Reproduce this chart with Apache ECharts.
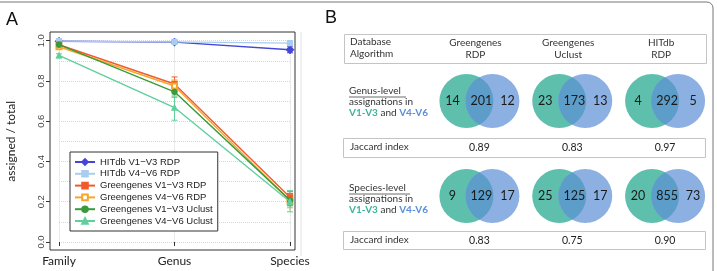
<!DOCTYPE html>
<html>
<head>
<meta charset="utf-8">
<script src="https://cdn.jsdelivr.net/npm/echarts@6/dist/echarts.min.js"></script>
<style>
html, body { margin: 0; padding: 0; background: #fff; }
#main { width: 717px; height: 271px; }
</style>
</head>
<body>
<div id="main"></div>
<script>
// ---- panel A data ----
var levels = ['Family', 'Genus', 'Species']
var yTicks = [0, 0.2, 0.4, 0.6, 0.8, 1.0]
var seriesNames = [
  'HITdb V1−V3 RDP',
  'HITdb V4−V6 RDP',
  'Greengenes V1−V3 RDP',
  'Greengenes V4−V6 RDP',
  'Greengenes V1−V3 Uclust',
  'Greengenes V4−V6 Uclust'
]
var hitdbV13Rdp = [0.997, 0.993, 0.955]
var hitdbV46Rdp = [0.998, 0.994, 0.988]
var ggV13Rdp = [0.980, 0.785, 0.222]
var ggV46Rdp = [0.970, 0.775, 0.205]
var ggV13Uclust = [0.980, 0.746, 0.208]
var ggV46Uclust = [0.927, 0.668, 0.200]
// error bar bounds
var hitdbV13Lo = [0.994, 0.989, 0.940]
var hitdbV13Hi = [0.999, 0.997, 0.970]
var hitdbV46Lo = [0.996, 0.990, 0.983]
var hitdbV46Hi = [1.000, 0.997, 0.993]
var ggV13RdpLo = [0.975, 0.750, 0.190]
var ggV13RdpHi = [0.985, 0.820, 0.250]
var ggV46RdpLo = [0.960, 0.745, 0.170]
var ggV46RdpHi = [0.980, 0.805, 0.240]
var ggV13UclustLo = [0.970, 0.720, 0.180]
var ggV13UclustHi = [0.990, 0.770, 0.240]
var ggV46UclustLo = [0.915, 0.605, 0.150]
var ggV46UclustHi = [0.935, 0.730, 0.255]

// ---- panel B data ----
var colDatabase = ['Greengenes', 'Greengenes', 'HITdb']
var colAlgorithm = ['RDP', 'Uclust', 'RDP']
var genusVenn = [[14, 201, 12], [23, 173, 13], [4, 292, 5]]
var speciesVenn = [[9, 129, 17], [25, 125, 17], [20, 855, 73]]
var jaccardGenus = ['0.89', '0.83', '0.97']
var jaccardSpecies = ['0.83', '0.75', '0.90']

var colors = ['#4545d8', '#a9cdef', '#f15b2c', '#f6a62b', '#3b9a3b', '#60cf9c']
var symbols = ['diamond', 'rect', 'rect', 'emptyRect', 'circle', 'triangle']
var values = [hitdbV13Rdp, hitdbV46Rdp, ggV13Rdp, ggV46Rdp, ggV13Uclust, ggV46Uclust]
var lows = [hitdbV13Lo, hitdbV46Lo, ggV13RdpLo, ggV46RdpLo, ggV13UclustLo, ggV46UclustLo]
var highs = [hitdbV13Hi, hitdbV46Hi, ggV13RdpHi, ggV46RdpHi, ggV13UclustHi, ggV46UclustHi]

var fontA = 'Liberation Sans, Arial, sans-serif'
var fontB = 'Lato, Open Sans, sans-serif'

var myChart = echarts.init(document.getElementById('main'))

var series = []
seriesNames.forEach(function (name, i) {
  series.push({
    name: name,
    type: 'line',
    xAxisIndex: 0,
    yAxisIndex: 0,
    data: values[i],
    symbol: symbols[i],
    symbolSize: i === 0 ? 7 : 5,
    showSymbol: true,
    lineStyle: { width: 1.4, color: colors[i] },
    itemStyle: { color: colors[i], borderColor: colors[i], borderWidth: 1.3 },
    z: 3 + i
  })
})

// error bars
var errData = []
lows.forEach(function (lo, s) {
  lo.forEach(function (v, k) {
    errData.push([k, v, highs[s][k], s])
  })
})
series.push({
  type: 'custom',
  xAxisIndex: 0,
  yAxisIndex: 0,
  data: errData,
  z: 2,
  renderItem: function (params, api) {
    var p1 = api.coord([api.value(0), api.value(1)])
    var p2 = api.coord([api.value(0), api.value(2)])
    var c = colors[api.value(3)]
    var w = 3
    var st = { stroke: c, lineWidth: 1 }
    return {
      type: 'group',
      children: [
        { type: 'line', shape: { x1: p1[0], y1: p1[1], x2: p2[0], y2: p2[1] }, style: st },
        { type: 'line', shape: { x1: p1[0] - w, y1: p1[1], x2: p1[0] + w, y2: p1[1] }, style: st },
        { type: 'line', shape: { x1: p2[0] - w, y1: p2[1], x2: p2[0] + w, y2: p2[1] }, style: st }
      ]
    }
  }
})

// venn diagrams
var vennData = []
genusVenn.forEach(function (v, c) { vennData.push([c, 0, v[0], v[1], v[2]]) })
speciesVenn.forEach(function (v, c) { vennData.push([c, 1, v[0], v[1], v[2]]) })
series.push({
  type: 'custom',
  xAxisIndex: 2,
  yAxisIndex: 3,
  data: vennData,
  renderItem: function (params, api) {
    var p = api.coord([api.value(0), api.value(1)])
    var r = 27
    var d = 13
    var h = Math.sqrt(r * r - d * d)
    var lens = 'M' + p[0] + ',' + (p[1] - h) +
      ' A' + r + ',' + r + ' 0 0 1 ' + p[0] + ',' + (p[1] + h) +
      ' A' + r + ',' + r + ' 0 0 1 ' + p[0] + ',' + (p[1] - h) + ' Z'
    var tf = { fill: '#1a1a1a', font: '12.5px ' + fontB, align: 'center', verticalAlign: 'middle' }
    return {
      type: 'group',
      children: [
        { type: 'circle', shape: { cx: p[0] - d, cy: p[1], r: r }, style: { fill: '#5ebfad' } },
        { type: 'circle', shape: { cx: p[0] + d, cy: p[1], r: r }, style: { fill: '#8db0e2' } },
        { type: 'path', shape: { pathData: lens }, style: { fill: '#5c9dc9' } },
        { type: 'text', style: Object.assign({ text: String(api.value(2)), x: p[0] - 27, y: p[1] }, tf) },
        { type: 'text', style: Object.assign({ text: String(api.value(3)), x: p[0] + 2, y: p[1] }, tf) },
        { type: 'text', style: Object.assign({ text: String(api.value(4)), x: p[0] + 28, y: p[1] }, tf) }
      ]
    }
  }
})

// jaccard values and column headers
var jacData = []
jaccardGenus.forEach(function (v, c) { jacData.push([c, 0.49, c, 0]) })
jaccardSpecies.forEach(function (v, c) { jacData.push([c, 1.465, c, 1]) })
series.push({
  type: 'custom',
  xAxisIndex: 2,
  yAxisIndex: 3,
  data: jacData,
  renderItem: function (params, api) {
    var p = api.coord([api.value(0), api.value(1)])
    var arr = api.value(3) === 0 ? jaccardGenus : jaccardSpecies
    return {
      type: 'text',
      style: { text: arr[api.value(2)], x: p[0], y: p[1], fill: '#222', font: '10.5px ' + fontB, align: 'center', verticalAlign: 'middle' }
    }
  }
})
var headData = colDatabase.map(function (d, c) { return [c, -0.61, c] })
series.push({
  type: 'custom',
  xAxisIndex: 2,
  yAxisIndex: 3,
  data: headData,
  renderItem: function (params, api) {
    var p = api.coord([api.value(0), api.value(1)])
    var c = api.value(2)
    var st = { fill: '#333', font: '10px ' + fontB, align: 'center', verticalAlign: 'middle' }
    return {
      type: 'group',
      children: [
        { type: 'text', style: Object.assign({ text: colDatabase[c], x: p[0] - 4, y: p[1] }, st) },
        { type: 'text', style: Object.assign({ text: colAlgorithm[c], x: p[0] - 4, y: p[1] + 12 }, st) }
      ]
    }
  }
})

var labelRich = {
  a: { fill: '#3db39c', fontWeight: 'bold', fontSize: 10, fontFamily: fontB },
  n: { fill: '#333', fontSize: 10, fontFamily: fontB },
  b: { fill: '#5b8fd8', fontWeight: 'bold', fontSize: 10, fontFamily: fontB }
}
function rowLabel (title, y, ulw) {
  var st = { fill: '#333', font: '10px ' + fontB, verticalAlign: 'middle', align: 'left' }
  return [
    { type: 'text', x: 349, y: y - 11, style: Object.assign({ text: title }, st) },
    { type: 'line', shape: { x1: 349, y1: y - 5, x2: 349 + ulw, y2: y - 5 }, style: { stroke: '#444', lineWidth: 0.8 } },
    { type: 'text', x: 349, y: y, style: Object.assign({ text: 'assignations in' }, st) },
    { type: 'text', x: 349, y: y + 11, style: Object.assign({ text: '{a|V1-V3}{n| and }{b|V4-V6}', rich: labelRich }, st) }
  ]
}

var graphics = [
  { type: 'rect', shape: { x: -10, y: 2, width: 723, height: 300, r: 6 }, style: { fill: 'none', stroke: '#777', lineWidth: 1 }, silent: true },
  { type: 'line', shape: { x1: 301, y1: 32, x2: 301, y2: 256 }, style: { stroke: '#e2e2e2', lineWidth: 1 } },
  { type: 'text', left: 6, top: 11, style: { text: 'A', fill: '#111', font: '18px ' + fontA } },
  { type: 'text', left: 325, top: 9, style: { text: 'B', fill: '#111', font: '18px ' + fontA } },
  { type: 'rect', shape: { x: 344.5, y: 34.5, width: 362, height: 29 }, style: { fill: 'none', stroke: '#c4c4c4', lineWidth: 1 } },
  { type: 'text', left: 350, top: 37, style: { text: 'Database', fill: '#333', font: '10px ' + fontB } },
  { type: 'text', left: 350, top: 49, style: { text: 'Algorithm', fill: '#333', font: '10px ' + fontB } },
  { type: 'rect', shape: { x: 343.5, y: 138.5, width: 362, height: 19 }, style: { fill: 'none', stroke: '#c4c4c4', lineWidth: 1 } },
  { type: 'text', left: 350, top: 142, style: { text: 'Jaccard index', fill: '#333', font: '10px ' + fontB } },
  { type: 'rect', shape: { x: 343.5, y: 231.5, width: 362, height: 18 }, style: { fill: 'none', stroke: '#c4c4c4', lineWidth: 1 } },
  { type: 'text', left: 350, top: 234.5, style: { text: 'Jaccard index', fill: '#333', font: '10px ' + fontB } }
].concat(rowLabel('Genus-level', 102, 57)).concat(rowLabel('Species-level', 199, 61))

myChart.setOption({
  animation: false,
  backgroundColor: '#fff',
  graphic: graphics,
  legend: {
    data: seriesNames,
    orient: 'vertical',
    left: 70,
    top: 152,
    itemWidth: 20,
    itemHeight: 7,
    itemGap: 1.8,
    padding: [5, 5, 5, 4],
    backgroundColor: '#fff',
    borderColor: '#333',
    borderWidth: 1,
    borderRadius: 0,
    textStyle: { fontSize: 9.5, fontFamily: fontA, color: '#222', lineHeight: 10 }
  },
  grid: [
    { left: 59, right: 427, top: 40.7, bottom: 29 },
    { left: 50, right: 422, top: 32, bottom: 21, show: true, borderColor: '#333', borderWidth: 1, backgroundColor: 'transparent' },
    { left: 433, right: 5.5, top: 34.5, bottom: 18 }
  ],
  xAxis: [
    {
      type: 'category',
      gridIndex: 0,
      data: levels,
      boundaryGap: false,
      offset: 8,
      axisLine: { show: false },
      axisTick: { show: true, length: 4, lineStyle: { color: '#333' } },
      axisLabel: { fontSize: 12, fontFamily: fontB, color: '#222', margin: 5 },
      splitLine: { show: true, lineStyle: { color: '#d6d6d6', type: 'dotted' } }
    },
    { type: 'value', gridIndex: 1, show: false },
    { type: 'category', gridIndex: 2, data: ['c0', 'c1', 'c2'], show: false }
  ],
  yAxis: [
    {
      type: 'value',
      gridIndex: 0,
      min: yTicks[0],
      max: yTicks[yTicks.length - 1],
      interval: 0.2,
      offset: 9,
      name: 'assigned / total',
      nameLocation: 'middle',
      nameRotate: 90,
      nameGap: 33,
      nameTextStyle: { fontSize: 12, fontFamily: fontB, color: '#222' },
      axisLine: { show: false },
      axisTick: { show: true, length: 4, lineStyle: { color: '#333' } },
      axisLabel: { rotate: 90, fontSize: 9.5, fontFamily: fontA, color: '#444', margin: 4, formatter: function (v) { return v.toFixed(1) } },
      splitLine: { show: false }
    },
    {
      type: 'value',
      gridIndex: 0,
      min: 0,
      max: 1,
      interval: 0.1,
      axisLine: { show: false },
      axisTick: { show: false },
      axisLabel: { show: false },
      splitLine: { show: true, lineStyle: { color: '#d6d6d6', type: 'dotted' } }
    },
    { type: 'value', gridIndex: 1, show: false },
    { type: 'value', gridIndex: 2, min: -0.7, max: 1.6, inverse: true, show: false, splitLine: { show: false } }
  ],
  series: series
})
</script>
</body>
</html>
